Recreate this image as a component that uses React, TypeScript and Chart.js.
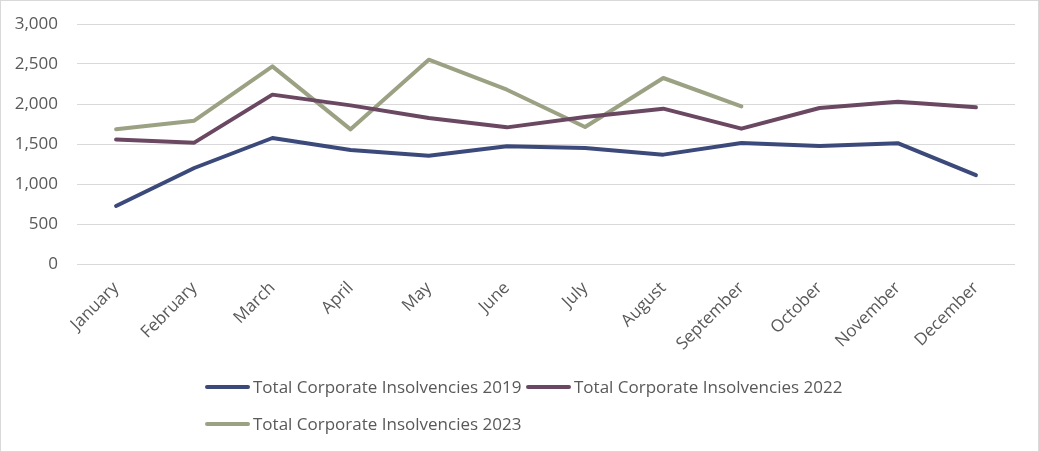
import React, { useEffect, useRef } from "react";
import { Chart, registerables } from "chart.js";

Chart.register(...registerables);

const months = ["January", "February", "March", "April", "May", "June", "July", "August", "September", "October", "November", "December"];
const series2019 = [725, 1200, 1575, 1425, 1354, 1471, 1450, 1367, 1512, 1475, 1510, 1110];
const series2022 = [1556, 1517, 2117, 1983, 1825, 1708, 1837, 1942, 1692, 1950, 2029, 1958];
const series2023 = [1683, 1792, 2471, 1683, 2554, 2179, 1712, 2325, 1971];
const seriesNames = ["Total Corporate Insolvencies 2019", "Total Corporate Insolvencies 2022", "Total Corporate Insolvencies 2023"];
const seriesColors = ["#3c4a7b", "#6b4862", "#9ba283"];
const yTicks = [0, 500, 1000, 1500, 2000, 2500, 3000];

const FONT = "'Open Sans', sans-serif";

export default function App() {
  const ref = useRef<HTMLCanvasElement | null>(null);
  useEffect(() => {
    if (!ref.current) return;
    const data = [series2019, series2022, series2023];
    const chart = new Chart(ref.current, {
      type: "line",
      data: {
        labels: months,
        datasets: data.map((d, i) => ({
          label: seriesNames[i],
          data: d,
          borderColor: seriesColors[i],
          backgroundColor: seriesColors[i],
          borderWidth: 4,
          pointRadius: 0,
          tension: 0,
          borderCapStyle: "round" as const,
          borderJoinStyle: "round" as const,
        })),
      },
      options: {
        animation: false,
        responsive: false,
        layout: { padding: { left: 0, right: 24, top: 24, bottom: 100 } },
        plugins: { legend: { display: false }, tooltip: { enabled: false } },
        scales: {
          x: {
            offset: true,
            grid: { display: false, drawTicks: false },
            border: { display: false },
            ticks: {
              color: "#595959",
              font: { family: FONT, size: 17 },
              minRotation: 45,
              maxRotation: 45,
              padding: 14,
            },
            afterFit: (s: any) => { s.height = 88; s.paddingLeft = 0; s.paddingRight = 0; },
          },
          y: {
            min: 0,
            max: 3000,
            afterBuildTicks: (s: any) => { s.ticks = yTicks.map((v) => ({ value: v })); },
            grid: { color: "#d9d9d9", lineWidth: 1, drawTicks: false },
            border: { display: false },
            ticks: {
              color: "#595959",
              font: { family: FONT, size: 17 },
              padding: 19,
              callback: (v: any) => Number(v).toLocaleString("en-US"),
            },
            afterFit: (s: any) => { s.width = 77; s.paddingTop = 0; s.paddingBottom = 0; },
          },
        },
      },
    });
    return () => chart.destroy();
  }, []);

  const legendItem = (i: number, left: number, top: number) => (
    <div key={i} style={{ position: "absolute", left, top, height: 24, display: "flex", alignItems: "center", whiteSpace: "nowrap" }}>
      <div style={{ width: 45, height: 4, borderRadius: 2, background: seriesColors[i], marginRight: 3 }} />
      <span style={{ fontFamily: FONT, fontSize: 17, color: "#595959", lineHeight: "24px" }}>{seriesNames[i]}</span>
    </div>
  );

  return (
    <div style={{ position: "fixed", left: 0, top: 0, width: 1039, height: 452, background: "#fff", overflow: "hidden" }}>
      <canvas ref={ref} width={1039} height={452} style={{ position: "absolute", left: 0, top: 0, width: 1039, height: 452 }} />
      <div style={{ position: "absolute", left: 0, top: 0, width: 1037, height: 450, border: "1px solid #d9d9d9", pointerEvents: "none" }} />
      {legendItem(0, 205, 375)}
      {legendItem(1, 526, 375)}
      {legendItem(2, 205, 412)}
    </div>
  );
}
